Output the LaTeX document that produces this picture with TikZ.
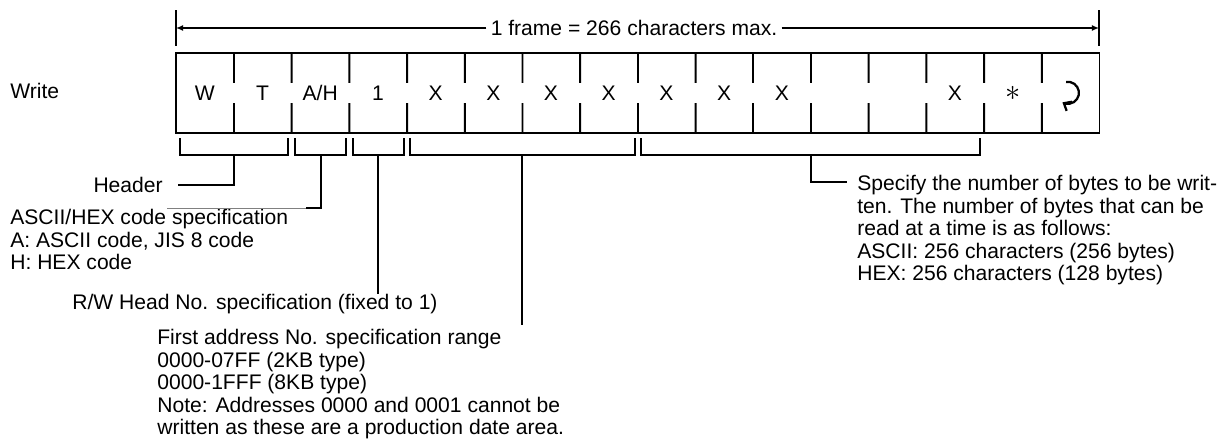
\documentclass[tikz,border=0pt]{standalone}
\usepackage{fontspec}
\setmainfont{Liberation Sans}
\usetikzlibrary{arrows.meta,calc}

\begin{document}
\begin{tikzpicture}[
  x=0.02cm, y=-0.02cm,
  cell/.style={minimum width=1.1538cm, minimum height=1.6cm, inner sep=0pt,
               font=\fontsize{12}{14}\selectfont},
  lbl/.style ={align=left, inner sep=0pt, font=\fontsize{12}{12.8}\selectfont},
  frm/.style ={line width=1.1pt},
  dimarr/.style={line width=1.1pt, -{Latex[length=4pt, width=3.4pt]}},
  ext/.style ={line width=0.5pt, gray},
]
  \useasboundingbox (0,0) rectangle (1226,443);

  % frame cells
  \node[lbl, anchor=west] (wr) at (10,91) {Write};
  \node[cell] (c1)  at (204.8, 93) {W};
  \node[cell] (c2)  at (262.5, 93) {T};
  \node[cell] (c3)  at (320.2, 93) {A/H};
  \node[cell] (c4)  at (377.9, 93) {1};
  \node[cell] (c5)  at (435.6, 93) {X};
  \node[cell] (c6)  at (493.3, 93) {X};
  \node[cell] (c7)  at (551.0, 93) {X};
  \node[cell] (c8)  at (608.7, 93) {X};
  \node[cell] (c9)  at (666.4, 93) {X};
  \node[cell] (c10) at (724.1, 93) {X};
  \node[cell] (c11) at (781.8, 93) {X};
  \node[cell] (c12) at (839.5, 93) {};
  \node[cell] (c13) at (897.2, 93) {};
  \node[cell] (c14) at (954.9, 93) {X};
  \node[cell, font=\fontsize{17}{17}\selectfont] (c15) at (1012.6,93) {$\ast$};
  \node[cell] (c16) at (1070.3,93) {};
  \draw[line width=1.3pt, -{Straight Barb[length=3.5pt, width=6pt]}]
    (1066,82) arc[start angle=100, end angle=-120, radius=0.22cm];

  \draw[frm] (c1.north west) rectangle (c16.south east);
  \foreach \i in {1,...,15} {
    \draw[frm] (c\i.north east) -- ($(c\i.north east)!0.375!(c\i.south east)$);
    \draw[frm] (c\i.south east) -- ($(c\i.south east)!0.375!(c\i.north east)$);
  }

  % frame length
  \coordinate (fl) at (176,28);
  \coordinate (fr) at (1099,28);
  \node[lbl, inner xsep=0.08cm] (dim) at (634,28) {1 frame = 266 characters max.};
  \draw[frm] ([yshift=0.36cm]fl) -- ([yshift=-0.36cm]fl);
  \draw[frm] ([yshift=0.36cm]fr) -- ([yshift=-0.36cm]fr);
  \draw[dimarr] (dim.west) -- (fl);
  \draw[dimarr] (dim.east) -- (fr);

  % brackets
  \draw[frm] (180,138) |- (288,155) -- (288,138);
  \draw[frm] (295,138) |- (346,155) -- (346,138);
  \draw[frm] (353,138) |- (404,155) -- (404,138);
  \draw[frm] (410,138) |- (635,155) -- (635,138);
  \draw[frm] (641,138) |- (980,155) -- (980,138);
  \coordinate (b1) at (234,155);
  \coordinate (b2) at (321,155);
  \coordinate (b3) at (378,155);
  \coordinate (b4) at (522,155);
  \coordinate (b5) at (811,155);

  % labels
  \node[lbl, anchor=east, inner xsep=0.3cm] (hdr) at (178,185) {Header};
  \node[lbl, anchor=north west] (asc) at (10,209)
    {ASCII/HEX code specification\\A: ASCII code, JIS 8 code\\H: HEX code};
  \node[lbl, anchor=north west] (rw) at (72,294)
    {R/W Head No. specification (fixed to 1)};
  \node[lbl, anchor=north west] (addr) at (157,329)
    {First address No. specification range\\0000-07FF (2KB type)\\0000-1FFF (8KB type)\\
     Note: Addresses 0000 and 0001 cannot be\\written as these are a production date area.};
  \node[lbl, anchor=north west] (spec) at (857,175)
    {Specify the number of bytes to be writ-\\ten. The number of bytes that can be\\
     read at a time is as follows:\\ASCII: 256 characters (256 bytes)\\HEX: 256 characters (128 bytes)};

  % leaders
  \coordinate (a2) at (306,208);
  \coordinate (a3) at (167,208);
  \coordinate (s5) at (847,182);
  \draw[frm] (b1) |- (hdr.east);
  \draw[frm] (b2) |- (a2);
  \draw[ext] (a2) -- (a3);
  \draw[frm] (b3) -- (b3 |- rw.north);
  \draw[frm] (b4) -- ([yshift=0.08cm]b4 |- addr.north);
  \draw[frm] (b5) |- (s5);
\end{tikzpicture}
\end{document}
